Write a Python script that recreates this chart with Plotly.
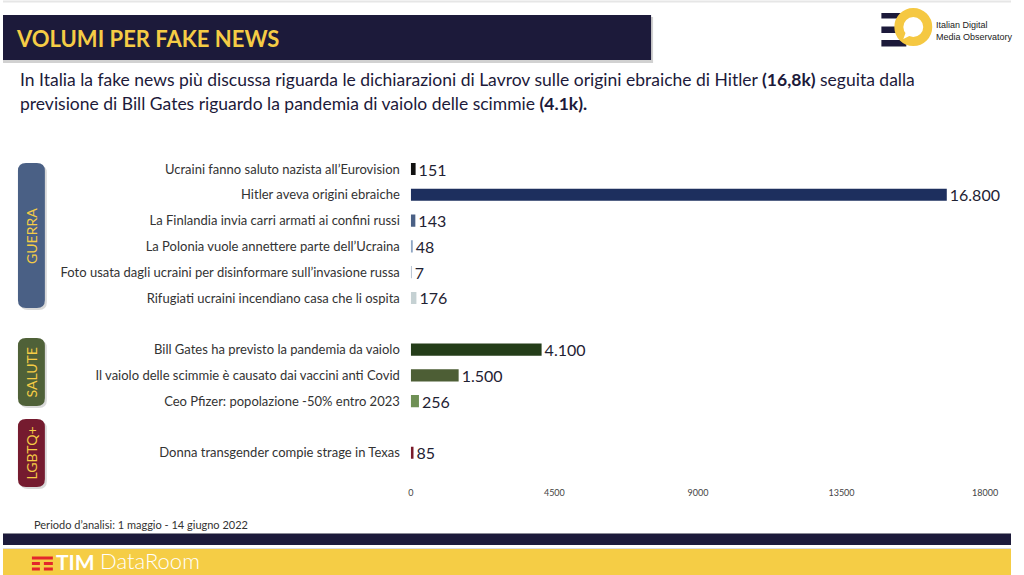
import plotly.graph_objects as go

W, H = 1024, 575
# effective drawing width observed in the rendering window
WE = 1011

# ---- data ----
categories = [
    "Ucraini fanno saluto nazista all\u2019Eurovision",
    "Hitler aveva origini ebraiche",
    "La Finlandia invia carri armati ai confini russi",
    "La Polonia vuole annettere parte dell\u2019Ucraina",
    "Foto usata dagli ucraini per disinformare sull\u2019invasione russa",
    "Rifugiati ucraini incendiano casa che li ospita",
    " ",
    "Bill Gates ha previsto la pandemia da vaiolo",
    "Il vaiolo delle scimmie \u00e8 causato dai vaccini anti Covid",
    "Ceo Pfizer: popolazione -50% entro 2023",
    "  ",
    "Donna transgender compie strage in Texas",
]
values = [151, 16800, 143, 48, 7, 176, None, 4100, 1500, 256, None, 85]
bar_colors = ["#111111", "#1d2f5e", "#4a6085", "#8fa6c4", "#aab8c8", "#c5d1d3",
              "#ffffff", "#243d19", "#4d5e35", "#6f9055", "#ffffff", "#7a1a2a"]
x_ticks = [0, 4500, 9000, 13500, 18000]

groups = ["GUERRA", "SALUTE", "LGBTQ+"]
group_colors = ["#4a6085", "#4f6138", "#751b2f"]

title = "VOLUMI PER FAKE NEWS"
subtitle_1 = ("In Italia la fake news pi\u00f9 discussa riguarda le dichiarazioni di Lavrov "
              "sulle origini ebraiche di Hitler <b>(16,8k)</b> seguita dalla")
subtitle_2 = "previsione di Bill Gates riguardo la pandemia di vaiolo delle scimmie <b>(4.1k).</b>"
period = "Periodo d\u2019analisi: 1 maggio - 14 giugno 2022"


def fmt(v):
    return "" if v is None else f"{v:,}".replace(",", ".")


def px(x):
    return x / WE


def py(y):
    return 1 - y / H


def rrect(x0, y0, x1, y1, r):
    rx, ry = r / WE, r / H
    X0, X1 = px(x0), px(x1)
    Y0, Y1 = py(y0), py(y1)
    return (f"M {X0+rx},{Y0} L {X1-rx},{Y0} Q {X1},{Y0} {X1},{Y0-ry} "
            f"L {X1},{Y1+ry} Q {X1},{Y1} {X1-rx},{Y1} L {X0+rx},{Y1} "
            f"Q {X0},{Y1} {X0},{Y1+ry} L {X0},{Y0-ry} Q {X0},{Y0} {X0+rx},{Y0} Z")


FONT = "Lato"
NAVY = "#1c1a3a"
YELLOW = "#f5cc45"

fig = go.Figure()
fig.add_trace(go.Bar(
    y=categories, x=values, orientation="h",
    marker=dict(color=bar_colors, line=dict(width=0)),
    width=0.47,
    text=[fmt(v) for v in values], textposition="outside", constraintext="none",
    textfont=dict(family=FONT, size=16, color="#1f2233"),
    cliponaxis=False, hoverinfo="skip",
))

shapes = []
shapes.append(dict(type="line", xref="paper", yref="paper", x0=0, x1=1, y0=py(1.5), y1=py(1.5),
                   line=dict(color="#e6e6e6", width=2)))
shapes.append(dict(type="rect", xref="paper", yref="paper", x0=px(0), x1=px(652), y0=py(63), y1=py(17),
                   fillcolor="rgba(0,0,0,0.18)", line=dict(width=0)))
shapes.append(dict(type="rect", xref="paper", yref="paper", x0=px(0), x1=px(650), y0=py(60), y1=py(15),
                   fillcolor=NAVY, line=dict(width=0)))
for (a, b) in [(13, 18.5), (26.5, 33), (40, 46.5)]:
    shapes.append(dict(type="rect", xref="paper", yref="paper", x0=px(881), x1=px(906), y0=py(b), y1=py(a),
                       fillcolor=NAVY, line=dict(width=0)))
shapes.append(dict(type="circle", xref="paper", yref="paper", x0=px(913-14.5), x1=px(913+14.5),
                   y0=py(27+14.5), y1=py(27-14.5), fillcolor="white", line=dict(color="#f5c842", width=9)))
shapes.append(dict(type="path", xref="paper", yref="paper",
                   path=f"M {px(906)},{py(31)} L {px(903)},{py(39)} L {px(911)},{py(35)} Z",
                   fillcolor="white", line=dict(width=0)))
boxes = [(163, 308), (338, 406), (419, 487)]
for (top, bot), col in zip(boxes, group_colors):
    shapes.append(dict(type="path", xref="paper", yref="paper", path=rrect(17, top + 2, 44, bot + 2, 8),
                       fillcolor="rgba(0,0,0,0.15)", line=dict(width=0)))
    shapes.append(dict(type="path", xref="paper", yref="paper", path=rrect(15, top, 42, bot, 8),
                       fillcolor=col, line=dict(width=0)))
shapes.append(dict(type="rect", xref="paper", yref="paper", x0=0, x1=1, y0=py(545), y1=py(533),
                   fillcolor="#8a8a96", line=dict(width=0)))
shapes.append(dict(type="rect", xref="paper", yref="paper", x0=0, x1=1, y0=py(545), y1=py(534),
                   fillcolor=NAVY, line=dict(width=0)))
shapes.append(dict(type="rect", xref="paper", yref="paper", x0=0, x1=1, y0=py(575), y1=py(548),
                   fillcolor="#dcdcdc", line=dict(width=0)))
shapes.append(dict(type="rect", xref="paper", yref="paper", x0=0, x1=1, y0=py(575), y1=py(549),
                   fillcolor="#f5cd45", line=dict(width=0)))
RED = "#e3262c"
shapes.append(dict(type="rect", xref="paper", yref="paper", x0=px(29), x1=px(50), y0=py(559.5), y1=py(556.5),
                   fillcolor=RED, line=dict(width=0)))
for yy in (562, 567.5):
    for (a, b) in [(29, 37), (41, 50)]:
        shapes.append(dict(type="rect", xref="paper", yref="paper", x0=px(a), x1=px(b), y0=py(yy + 3), y1=py(yy),
                           fillcolor=RED, line=dict(width=0)))

annotations = [
    dict(text=f"<b>{title}</b>", x=px(11), y=py(38), xref="paper", yref="paper", xanchor="left",
         yanchor="middle", showarrow=False, font=dict(family=FONT, size=22, color=YELLOW)),
    dict(text=subtitle_1, x=px(15), y=py(80), xref="paper", yref="paper", xanchor="left",
         yanchor="middle", showarrow=False, font=dict(family=FONT, size=17.5, color="#1c1a3a")),
    dict(text=subtitle_2, x=px(15), y=py(104), xref="paper", yref="paper", xanchor="left",
         yanchor="middle", showarrow=False, font=dict(family=FONT, size=17.5, color="#1c1a3a")),
    dict(text="Italian Digital", x=px(934), y=py(25), xref="paper", yref="paper", xanchor="left",
         yanchor="middle", showarrow=False, font=dict(family="Liberation Sans", size=9, color="#222")),
    dict(text="Media Observatory", x=px(934), y=py(37), xref="paper", yref="paper", xanchor="left",
         yanchor="middle", showarrow=False, font=dict(family="Liberation Sans", size=9, color="#222")),
    dict(text=period, x=px(29), y=py(524), xref="paper", yref="paper", xanchor="left",
         yanchor="middle", showarrow=False, font=dict(family=FONT, size=11, color="#333")),
    dict(text="<b>TIM</b>", x=px(51), y=py(561), xref="paper", yref="paper", xanchor="left",
         yanchor="middle", showarrow=False, font=dict(family=FONT, size=21, color="white")),
    dict(text="DataRoom", x=px(95), y=py(560.5), xref="paper", yref="paper", xanchor="left",
         yanchor="middle", showarrow=False, font=dict(family=FONT, size=22, color="white", weight=300)),
]
for (top, bot), g in zip(boxes, groups):
    annotations.append(dict(text=g, x=px(28.5), y=py((top + bot) / 2), xref="paper", yref="paper",
                            xanchor="center", yanchor="middle", textangle=-90, showarrow=False,
                            font=dict(family=FONT, size=14, color=YELLOW)))

fig.update_layout(
    width=W, height=H, margin=dict(l=0, r=0, t=0, b=0),
    paper_bgcolor="white", plot_bgcolor="white", showlegend=False,
    font=dict(family=FONT),
    shapes=shapes, annotations=annotations,
    xaxis=dict(domain=[px(409), px(985)], range=[0, 18000], tickvals=x_ticks, tickformat="d",
               showgrid=False, zeroline=False, showline=False, ticks="",
               tickfont=dict(family=FONT, size=9, color="#444")),
    yaxis=dict(domain=[py(486.3), py(156.1)], range=[12.3, -0.5], type="category",
               categoryorder="array", categoryarray=categories,
               showgrid=False, zeroline=False, showline=False, ticks="", ticklabelstandoff=10,
               tickfont=dict(family=FONT, size=13, color="#333")),
)

fig.write_html("out.html")
